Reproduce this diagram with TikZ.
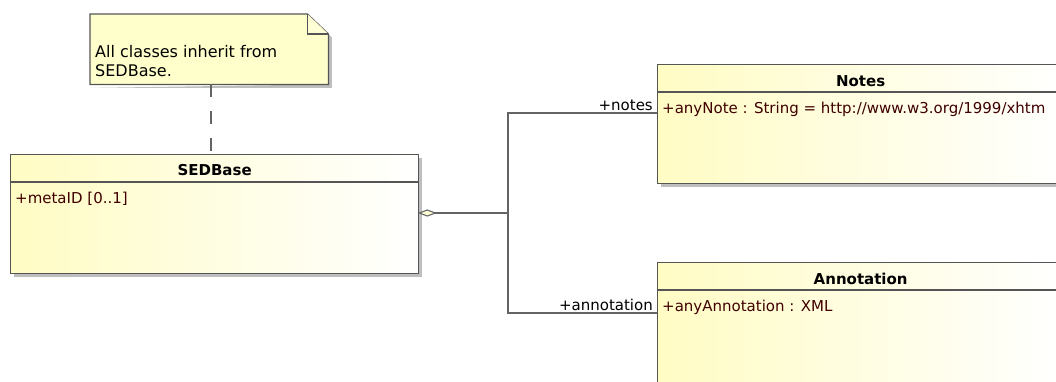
\documentclass[tikz,border=0pt]{standalone}
\usepackage{fontspec}
\setmainfont{DejaVu Sans}
\usetikzlibrary{shadows}
\definecolor{bordercol}{RGB}{85,85,85}
\definecolor{notefill}{RGB}{255,255,204}
\definecolor{foldfill}{RGB}{255,255,214}
\definecolor{classyel}{RGB}{255,252,196}
\definecolor{attrcol}{RGB}{64,0,0}
\definecolor{linecol}{RGB}{100,100,100}
\definecolor{shadowcol}{RGB}{190,190,190}
\definecolor{diafill}{RGB}{255,255,215}
\tikzset{
  classbox/.style={draw=bordercol, line width=1.3pt, anchor=north west, inner sep=0pt,
    left color=classyel, right color=white,
    drop shadow={shadow xshift=3.5pt, shadow yshift=-3.5pt, fill=shadowcol, opacity=1}},
  notebox/.style={anchor=north west, inner sep=0pt},
  classtitle/.style={anchor=base, inner sep=0pt, font=\fontsize{15}{18}\selectfont\bfseries},
  attr/.style={anchor=base west, inner sep=0pt, text=attrcol, font=\fontsize{15}{18}\selectfont},
  rolelbl/.style={anchor=base east, inner sep=0pt, font=\fontsize{15}{18}\selectfont},
  notetext/.style={anchor=north west, inner sep=0pt, align=left, font=\fontsize{16}{19}\selectfont},
  conn/.style={draw=linecol, line width=1.3pt},
  sepline/.style={draw=bordercol, line width=1.3pt},
  notedash/.style={draw=linecol, line width=1.3pt, dash pattern=on 13pt off 14pt}
}
\begin{document}
\begin{tikzpicture}[x=1pt,y=-1pt]
\useasboundingbox (0,0) rectangle (1056,381);
\clip (0,0) rectangle (1056,381);

% ---------- note ----------
\node[notebox, minimum width=238pt, minimum height=70pt] (note) at (90,14) {};
\fill[shadowcol] ([xshift=3.5pt,yshift=-23.5pt]note.north east) -- ([xshift=3.5pt,yshift=-3.5pt]note.south east)
   -- ([xshift=3.5pt,yshift=-3.5pt]note.south west) -- ([yshift=-3.5pt]note.south west)
   -- (note.south east) -- ([yshift=-20pt]note.north east) -- cycle;
\draw[sepline, fill=notefill] (note.north west) -- ([xshift=-21pt]note.north east)
   -- ([yshift=-20pt]note.north east) -- (note.south east) -- (note.south west) -- cycle;
\draw[sepline, fill=foldfill, line join=miter] ([xshift=-21pt]note.north east) -- ([xshift=-21pt,yshift=-20pt]note.north east)
   -- ([yshift=-20pt]note.north east);
\node[notetext] (notetxt) at (95,45) {All classes inherit from\\SEDBase.};

% ---------- classes ----------
\node[classbox, minimum width=408pt, minimum height=119pt] (sed) at (10,154) {};
\draw[sepline] ([yshift=-28pt]sed.north west) -- ([yshift=-28pt]sed.north east);
\node[classtitle] (sedt) at ([yshift=-21pt]sed.north) {SEDBase};
\node[attr] (seda) at ([xshift=5pt,yshift=-49pt]sed.north west) {+metaID [0..1]};

\node[classbox, minimum width=406pt, minimum height=119pt] (notes) at (657,64) {};
\draw[sepline] ([yshift=-28pt]notes.north west) -- ([yshift=-28pt]notes.north east);
\node[classtitle] (notest) at ([yshift=-22pt]notes.north) {Notes};
\node[attr] (notesa) at ([xshift=5pt,yshift=-49pt]notes.north west) {+anyNote : String = http://www.w3.org/1999/xhtm};

\node[classbox, minimum width=406pt, minimum height=130pt] (annot) at (657,262) {};
\draw[sepline] ([yshift=-28pt]annot.north west) -- ([yshift=-28pt]annot.north east);
\node[classtitle] (annott) at ([yshift=-22pt]annot.north) {Annotation};
\node[attr] (annota) at ([xshift=5pt,yshift=-49pt]annot.north west) {+anyAnnotation : XML};

% ---------- note anchor ----------
\coordinate (nbot) at ([xshift=121pt]note.south west);
\draw[notedash] (nbot) -- (nbot |- sed.north);

% ---------- aggregation ----------
\coordinate (dtip) at ([yshift=-59pt]sed.north east);
\coordinate (dend) at ([xshift=16pt]dtip);
\coordinate (junc) at (508,213);
\coordinate (notesend) at ([yshift=-49pt]notes.north west);
\coordinate (annend) at ([yshift=-51pt]annot.north west);
\draw[conn] (dend) -- (junc);
\draw[conn] (junc) |- (notesend);
\draw[conn] (junc) |- (annend);
\draw[draw=linecol, line width=1.1pt, fill=diafill] (dtip) -- ([xshift=8pt,yshift=3pt]dtip) -- (dend) -- ([xshift=8pt,yshift=-3pt]dtip) -- cycle;

\node[rolelbl] (lnotes) at ([xshift=-4pt,yshift=3pt]notesend) {+notes};
\node[rolelbl] (lannot) at ([xshift=-4pt,yshift=3pt]annend) {+annotation};
\end{tikzpicture}
\end{document}
